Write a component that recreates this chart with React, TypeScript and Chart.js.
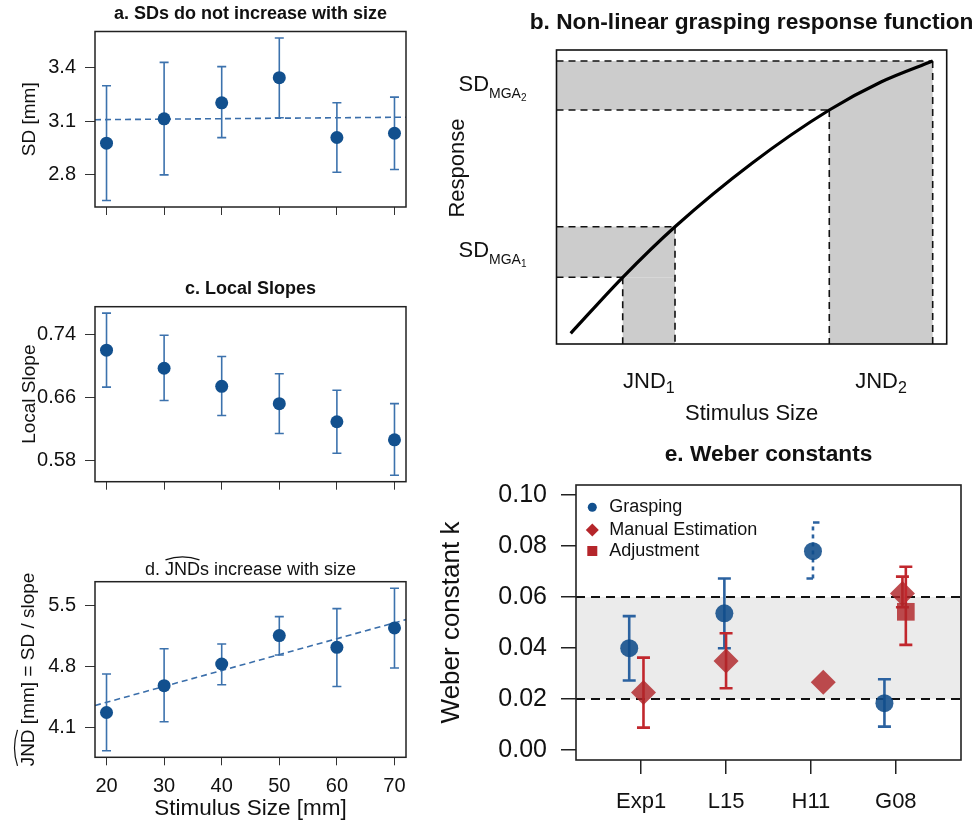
import React, { useEffect, useRef } from 'react';
import { Chart, registerables } from 'chart.js';

Chart.register(...registerables);

const FONT = '"Liberation Sans", Arial, Helvetica, sans-serif';
const INK = '#111111';

// ---------- panels a, c, d : stimulus sizes ----------
const sizes = [20, 30, 40, 50, 60, 70];
const sizeTicks = [20, 30, 40, 50, 60, 70];

const sdMean = [2.976, 3.113, 3.203, 3.344, 3.008, 3.032];
const sdLow = [2.654, 2.798, 3.007, 3.119, 2.813, 2.828];
const sdHigh = [3.299, 3.43, 3.406, 3.567, 3.203, 3.235];
const sdFitX = [18, 72];
const sdFitY = [3.108, 3.122];
const sdTicks = [2.8, 3.1, 3.4];

const slopeMean = [0.72, 0.697, 0.674, 0.652, 0.629, 0.606];
const slopeLow = [0.673, 0.656, 0.637, 0.614, 0.589, 0.561];
const slopeHigh = [0.767, 0.739, 0.712, 0.69, 0.669, 0.652];
const slopeTicks = [0.58, 0.66, 0.74];

const jndMean = [4.268, 4.577, 4.827, 5.154, 5.019, 5.242];
const jndLow = [3.827, 4.161, 4.588, 4.931, 4.568, 4.781];
const jndHigh = [4.711, 5.003, 5.058, 5.373, 5.465, 5.7];
const jndFitX = [18, 72];
const jndFitY = [4.349, 5.338];
const jndTicks = [4.1, 4.8, 5.5];

// ---------- panel b : schematic response function ----------
const curveX = [0.364, 1.697, 3.037, 5.01, 6.991, 8.316, 9.641];
const curveY = [0.364, 2.269, 3.99, 6.15, 7.959, 8.912, 9.626];
const jndStart = [1.697, 6.991];
const jndEnd = [3.037, 9.641];
const sdStart = [2.269, 7.959];
const sdEnd = [3.99, 9.626];

// ---------- panel e : Weber constants ----------
const studies = ['Exp1', 'L15', 'H11', 'G08'];
const studyPos = [1, 2, 3, 4];
const graspX = [0.859, 1.98, 3.024, 3.866];
const graspK = [0.0399, 0.0536, 0.078, 0.0183];
const graspLow = [0.0272, 0.0399, 0.0673, 0.0091];
const graspHigh = [0.0525, 0.0673, 0.0893, 0.0277];
const graspDashed = [false, false, true, false];
const manualX = [1.027, 2.0, 3.145, 4.078];
const manualK = [0.0225, 0.0349, 0.0265, 0.0614];
const manualLow = [0.0087, 0.0242, null, 0.056];
const manualHigh = [0.0362, 0.0458, null, 0.068];
const adjustX = [4.118];
const adjustK = [0.0542];
const adjustLow = [0.0412];
const adjustHigh = [0.0719];
const bandK = [0.02, 0.06];
const weberTicks = [0, 0.02, 0.04, 0.06, 0.08, 0.1];

const BLUE_PT = '#12508e';
const BLUE_BAR = '#3c72ad';
const BLUE_LINE = '#3a6eaa';

const errorBars = {
  id: 'errorBars',
  beforeDatasetDraw(chart: any, args: any) {
    const ds = chart.data.datasets[args.index];
    if (!ds.errLow) return;
    const ctx = chart.ctx;
    const xs = chart.scales.x;
    const ys = chart.scales.y;
    ctx.save();
    ctx.strokeStyle = ds.errColor;
    ctx.lineWidth = ds.errWidth;
    ds.data.forEach((pt: any, i: number) => {
      const lo = ds.errLow[i];
      const hi = ds.errHigh[i];
      if (lo == null || hi == null) return;
      const px = xs.getPixelForValue(pt.x);
      const yl = ys.getPixelForValue(lo);
      const yh = ys.getPixelForValue(hi);
      const dashed = ds.errDashed && ds.errDashed[i];
      const c = ds.capHalf;
      ctx.setLineDash(dashed ? [4, 4] : []);
      ctx.beginPath();
      ctx.moveTo(px, yl);
      ctx.lineTo(px, yh);
      ctx.stroke();
      ctx.setLineDash([]);
      ctx.beginPath();
      if (dashed) {
        ctx.moveTo(px, yh);
        ctx.lineTo(px + c, yh);
        ctx.moveTo(px - c, yl);
        ctx.lineTo(px, yl);
      } else {
        ctx.moveTo(px - c, yh);
        ctx.lineTo(px + c, yh);
        ctx.moveTo(px - c, yl);
        ctx.lineTo(px + c, yl);
      }
      ctx.stroke();
    });
    ctx.restore();
  },
};

function boxPlugin(color: string, width: number) {
  return {
    id: 'box',
    afterDraw(chart: any) {
      const { ctx, chartArea: a } = chart;
      ctx.save();
      ctx.strokeStyle = color;
      ctx.lineWidth = width;
      ctx.strokeRect(a.left, a.top, a.right - a.left, a.bottom - a.top);
      ctx.restore();
    },
  };
}

type Part = { t: string; size: number; dy: number };
function drawParts(ctx: CanvasRenderingContext2D, parts: Part[], x: number, y: number, align: string) {
  const widths = parts.map((p) => {
    ctx.font = `${p.size}px ${FONT}`;
    return ctx.measureText(p.t).width;
  });
  const total = widths.reduce((s, w) => s + w, 0);
  let cx = align === 'left' ? x : align === 'right' ? x - total : x - total / 2;
  ctx.textAlign = 'left';
  ctx.textBaseline = 'alphabetic';
  parts.forEach((p, i) => {
    ctx.font = `${p.size}px ${FONT}`;
    ctx.fillText(p.t, cx, y + p.dy);
    cx += widths[i];
  });
}

function drawHat(ctx: CanvasRenderingContext2D, x0: number, x1: number, y: number, h: number) {
  ctx.beginPath();
  ctx.moveTo(x0, y);
  ctx.quadraticCurveTo((x0 + x1) / 2, y - 2 * h, x1, y);
  ctx.stroke();
}

const baseOpts = {
  responsive: false,
  animation: false as const,
  devicePixelRatio: 1,
  events: [] as any[],
};

function sizePanelConfig(p: {
  mean: number[]; low: number[]; high: number[];
  yMin: number; yMax: number; yTicks: number[]; decimals: number;
  fitX?: number[]; fitY?: number[];
  yTitle?: string; padTop: number; xHeight: number;
  xLabels: boolean; xTitle?: string;
  extra: (chart: any) => void;
}) {
  const datasets: any[] = [
    {
      data: sizes.map((x, i) => ({ x, y: p.mean[i] })),
      pointRadius: 6.5,
      pointStyle: 'circle',
      backgroundColor: BLUE_PT,
      borderWidth: 0,
      errLow: p.low,
      errHigh: p.high,
      errColor: BLUE_BAR,
      errWidth: 1.6,
      capHalf: 4.5,
      order: 1,
    },
  ];
  if (p.fitX && p.fitY) {
    const fy = p.fitY;
    datasets.push({
      data: p.fitX.map((x, i) => ({ x, y: fy[i] })),
      showLine: true,
      pointRadius: 0,
      borderColor: BLUE_LINE,
      borderWidth: 1.6,
      borderDash: [6, 4],
      order: 2,
    });
  }
  return {
    type: 'scatter',
    data: { datasets },
    options: {
      ...baseOpts,
      layout: { autoPadding: false, padding: { left: 0, top: p.padTop, right: 24, bottom: 0 } },
      plugins: { legend: { display: false }, tooltip: { enabled: false } },
      scales: {
        x: {
          type: 'linear',
          min: 18,
          max: 72,
          afterBuildTicks: (s: any) => { s.ticks = sizeTicks.map((v) => ({ value: v })); },
          afterFit: (s: any) => { s.height = p.xHeight; },
          border: { display: false },
          grid: { drawOnChartArea: false, drawTicks: true, tickLength: 8, color: '#333', lineWidth: 1 },
          ticks: {
            autoSkip: false,
            maxRotation: 0,
            padding: 9,
            color: INK,
            font: { family: FONT, size: 20 },
            callback: (v: any) => (p.xLabels ? String(v) : ''),
          },
          title: {
            display: !!p.xTitle,
            text: p.xTitle || '',
            color: INK,
            font: { family: FONT, size: 22.5 },
            padding: { top: 0, bottom: 0 },
          },
        },
        y: {
          type: 'linear',
          min: p.yMin,
          max: p.yMax,
          afterBuildTicks: (s: any) => { s.ticks = p.yTicks.map((v) => ({ value: v })); },
          afterFit: (s: any) => { s.width = 95; },
          border: { display: false },
          grid: { drawOnChartArea: false, drawTicks: true, tickLength: 10, color: '#333', lineWidth: 1 },
          ticks: {
            autoSkip: false,
            padding: 9,
            color: INK,
            font: { family: FONT, size: 20 },
            callback: (v: any) => Number(v).toFixed(p.decimals),
          },
          title: {
            display: !!p.yTitle,
            text: p.yTitle || '',
            color: INK,
            font: { family: FONT, size: 19 },
            padding: { top: 18.6, bottom: 0 },
          },
        },
      },
    },
    plugins: [errorBars, boxPlugin('#222', 1.5), { id: 'extra', afterDraw: p.extra }],
  };
}

function boldTitle(text: string, y: number) {
  return (chart: any) => {
    const { ctx, chartArea: a } = chart;
    ctx.save();
    ctx.fillStyle = INK;
    ctx.font = `bold 18px ${FONT}`;
    ctx.textAlign = 'center';
    ctx.textBaseline = 'middle';
    ctx.fillText(text, (a.left + a.right) / 2, y);
    ctx.restore();
  };
}

function panelDExtra(chart: any) {
  const { ctx, chartArea: a } = chart;
  ctx.save();
  ctx.fillStyle = INK;
  ctx.strokeStyle = INK;
  ctx.lineWidth = 1.2;
  // title with hat over JND
  ctx.font = `18px ${FONT}`;
  const full = 'd. JNDs increase with size';
  const total = ctx.measureText(full).width;
  const start = (a.left + a.right) / 2 - total / 2;
  const pre = ctx.measureText('d. ').width;
  const jw = ctx.measureText('JND').width;
  const base = 65.4;
  ctx.textAlign = 'left';
  ctx.textBaseline = 'alphabetic';
  ctx.fillText(full, start, base);
  drawHat(ctx, start + pre + 0.5, start + pre + jw - 0.5, base - 15.5, 3);
  // rotated y title with hat
  ctx.save();
  ctx.translate(27, (a.top + a.bottom) / 2);
  ctx.rotate(-Math.PI / 2);
  ctx.font = `19px ${FONT}`;
  const yt = 'JND [mm] = SD / slope';
  const tw = ctx.measureText(yt).width;
  const jw2 = ctx.measureText('JND').width;
  ctx.fillText(yt, -tw / 2, 6.8);
  drawHat(ctx, -tw / 2 + 0.5, -tw / 2 + jw2 - 0.5, -9.5, 3);
  ctx.restore();
  ctx.restore();
}

function panelBConfig() {
  const fillsAndDashes = {
    id: 'bdecor',
    beforeDatasetsDraw(chart: any) {
      const { ctx, chartArea: a, scales } = chart;
      const xs = scales.x;
      const ys = scales.y;
      ctx.save();
      ctx.fillStyle = '#cccccc';
      for (let i = 0; i < jndStart.length; i++) {
        const x0 = xs.getPixelForValue(jndStart[i]);
        const x1 = xs.getPixelForValue(jndEnd[i]);
        const y0 = ys.getPixelForValue(sdStart[i]);
        const y1 = ys.getPixelForValue(sdEnd[i]);
        ctx.fillRect(a.left, y1, x1 - a.left, y0 - y1);
        ctx.fillRect(x0, y0, x1 - x0, a.bottom - y0);
      }
      ctx.strokeStyle = '#111';
      ctx.lineWidth = 1.6;
      ctx.setLineDash([7, 5]);
      for (let i = 0; i < jndStart.length; i++) {
        const pairs = [
          [jndStart[i], sdStart[i]],
          [jndEnd[i], sdEnd[i]],
        ];
        pairs.forEach(([xv, yv]) => {
          const px = xs.getPixelForValue(xv);
          const py = ys.getPixelForValue(yv);
          ctx.beginPath();
          ctx.moveTo(a.left, py);
          ctx.lineTo(px, py);
          ctx.moveTo(px, py);
          ctx.lineTo(px, a.bottom);
          ctx.stroke();
        });
      }
      ctx.restore();
    },
    afterDraw(chart: any) {
      const { ctx, chartArea: a, scales } = chart;
      const xs = scales.x;
      const ys = scales.y;
      ctx.save();
      ctx.fillStyle = INK;
      ctx.font = `bold 22.7px ${FONT}`;
      ctx.textAlign = 'center';
      ctx.textBaseline = 'middle';
      ctx.fillText('b. Non-linear grasping response function', (a.left + a.right) / 2, 23);
      for (let i = 0; i < jndStart.length; i++) {
        const yc = (ys.getPixelForValue(sdStart[i]) + ys.getPixelForValue(sdEnd[i])) / 2;
        drawParts(
          ctx,
          [
            { t: 'SD', size: 22, dy: 0 },
            { t: 'MGA', size: 14, dy: 6.5 },
            { t: String(i + 1), size: 10, dy: 10 },
          ],
          a.left - 30,
          yc + 5.5,
          'right'
        );
        const xc = (xs.getPixelForValue(jndStart[i]) + xs.getPixelForValue(jndEnd[i])) / 2;
        drawParts(
          ctx,
          [
            { t: 'JND', size: 22, dy: 0 },
            { t: String(i + 1), size: 16, dy: 5 },
          ],
          xc,
          388,
          'center'
        );
      }
      drawParts(ctx, [{ t: 'Stimulus Size', size: 22, dy: 0 }], (a.left + a.right) / 2, 420, 'center');
      ctx.save();
      ctx.translate(28, 168);
      ctx.rotate(-Math.PI / 2);
      ctx.font = `22px ${FONT}`;
      ctx.textAlign = 'center';
      ctx.textBaseline = 'middle';
      ctx.fillText('Response', 0, 0);
      ctx.restore();
      ctx.strokeStyle = '#111';
      ctx.lineWidth = 1.6;
      ctx.strokeRect(a.left, a.top, a.right - a.left, a.bottom - a.top);
      ctx.restore();
    },
  };
  return {
    type: 'scatter',
    data: {
      datasets: [
        {
          data: curveX.map((x, i) => ({ x, y: curveY[i] })),
          showLine: true,
          cubicInterpolationMode: 'monotone',
          borderColor: '#000',
          borderWidth: 3.2,
          pointRadius: 0,
        },
      ],
    },
    options: {
      ...baseOpts,
      layout: { autoPadding: false, padding: { left: 126.5, top: 50, right: 32.3, bottom: 96 } },
      plugins: { legend: { display: false }, tooltip: { enabled: false } },
      scales: {
        x: { type: 'linear', min: 0, max: 10, display: false },
        y: { type: 'linear', min: 0, max: 10, display: false },
      },
    },
    plugins: [fillsAndDashes],
  };
}

function panelEConfig() {
  const RED_PT = 'rgba(176,36,40,0.82)';
  const RED_BAR = '#c1272d';
  const decor = {
    id: 'edecor',
    beforeDatasetsDraw(chart: any) {
      const { ctx, chartArea: a, scales } = chart;
      const ys = scales.y;
      const y0 = ys.getPixelForValue(bandK[0]);
      const y1 = ys.getPixelForValue(bandK[1]);
      ctx.save();
      ctx.fillStyle = '#ebebeb';
      ctx.fillRect(a.left, y1, a.right - a.left, y0 - y1);
      ctx.strokeStyle = '#111';
      ctx.lineWidth = 2;
      ctx.setLineDash([9, 6]);
      [y0, y1].forEach((y) => {
        ctx.beginPath();
        ctx.moveTo(a.left, y);
        ctx.lineTo(a.right, y);
        ctx.stroke();
      });
      ctx.restore();
    },
    afterDraw(chart: any) {
      const { ctx, chartArea: a } = chart;
      ctx.save();
      ctx.strokeStyle = '#222';
      ctx.lineWidth = 1.6;
      ctx.strokeRect(a.left, a.top, a.right - a.left, a.bottom - a.top);
      ctx.fillStyle = INK;
      ctx.font = `bold 22.7px ${FONT}`;
      ctx.textAlign = 'center';
      ctx.textBaseline = 'middle';
      ctx.fillText('e. Weber constants', (a.left + a.right) / 2, 15);
      // legend
      const lx = a.left + 16.3;
      const tx = a.left + 33.3;
      const rows = [a.top + 22.3, a.top + 45, a.top + 66];
      ctx.fillStyle = BLUE_PT;
      ctx.beginPath();
      ctx.arc(lx, rows[0], 4.5, 0, Math.PI * 2);
      ctx.fill();
      ctx.fillStyle = '#b5262b';
      ctx.beginPath();
      ctx.moveTo(lx - 6.5, rows[1]);
      ctx.lineTo(lx, rows[1] - 6.5);
      ctx.lineTo(lx + 6.5, rows[1]);
      ctx.lineTo(lx, rows[1] + 6.5);
      ctx.closePath();
      ctx.fill();
      ctx.fillRect(lx - 5, rows[2] - 5, 10, 10);
      ctx.fillStyle = INK;
      ctx.font = `18px ${FONT}`;
      ctx.textAlign = 'left';
      ctx.textBaseline = 'middle';
      ctx.fillText('Grasping', tx, rows[0]);
      ctx.fillText('Manual Estimation', tx, rows[1]);
      ctx.fillText('Adjustment', tx, rows[2]);
      ctx.restore();
    },
  };
  return {
    type: 'scatter',
    data: {
      datasets: [
        {
          data: graspX.map((x, i) => ({ x, y: graspK[i] })),
          pointStyle: 'circle',
          pointRadius: 9,
          backgroundColor: 'rgba(16,76,138,0.88)',
          borderWidth: 0,
          errLow: graspLow,
          errHigh: graspHigh,
          errDashed: graspDashed,
          errColor: '#2b62a0',
          errWidth: 2.6,
          capHalf: 6.5,
          order: 3,
        },
        {
          data: manualX.map((x, i) => ({ x, y: manualK[i] })),
          pointStyle: 'rectRot',
          pointRadius: 12.5,
          backgroundColor: RED_PT,
          borderWidth: 0,
          errLow: manualLow,
          errHigh: manualHigh,
          errColor: RED_BAR,
          errWidth: 2.6,
          capHalf: 6.5,
          order: 2,
        },
        {
          data: adjustX.map((x, i) => ({ x, y: adjustK[i] })),
          pointStyle: 'rect',
          pointRadius: 12.5,
          backgroundColor: RED_PT,
          borderWidth: 0,
          errLow: adjustLow,
          errHigh: adjustHigh,
          errColor: RED_BAR,
          errWidth: 2.6,
          capHalf: 6.5,
          order: 1,
        },
      ],
    },
    options: {
      ...baseOpts,
      layout: { autoPadding: false, padding: { left: 0, top: 45, right: 18, bottom: 0 } },
      plugins: { legend: { display: false }, tooltip: { enabled: false } },
      scales: {
        x: {
          type: 'linear',
          min: 0.232,
          max: 4.768,
          afterBuildTicks: (s: any) => { s.ticks = studyPos.map((v) => ({ value: v })); },
          afterFit: (s: any) => { s.height = 62; },
          border: { display: false },
          grid: { drawOnChartArea: false, drawTicks: true, tickLength: 14, color: '#222', lineWidth: 1.5 },
          ticks: {
            autoSkip: false,
            maxRotation: 0,
            padding: 14.5,
            color: INK,
            font: { family: FONT, size: 22 },
            callback: (v: any) => studies[studyPos.indexOf(Number(v))] || '',
          },
        },
        y: {
          type: 'linear',
          min: -0.004,
          max: 0.104,
          afterBuildTicks: (s: any) => { s.ticks = weberTicks.map((v) => ({ value: v })); },
          afterFit: (s: any) => { s.width = 146; },
          border: { display: false },
          grid: { drawOnChartArea: false, drawTicks: true, tickLength: 15, color: '#222', lineWidth: 1.5 },
          ticks: {
            autoSkip: false,
            padding: 14,
            color: INK,
            font: { family: FONT, size: 25 },
            callback: (v: any) => Number(v).toFixed(2),
          },
          title: {
            display: true,
            text: 'Weber constant k',
            color: INK,
            font: { family: FONT, size: 26 },
            padding: { top: 6, bottom: 0 },
          },
        },
      },
    },
    plugins: [errorBars, decor],
  };
}

const panels = [
  { key: 'a', left: 0, top: 0, w: 430, h: 230 },
  { key: 'c', left: 0, top: 240, w: 430, h: 270 },
  { key: 'd', left: 0, top: 510, w: 430, h: 312 },
  { key: 'b', left: 430, top: 0, w: 549, h: 440 },
  { key: 'e', left: 430, top: 440, w: 549, h: 382 },
];

export default function App() {
  const refs = useRef<(HTMLCanvasElement | null)[]>([]);

  useEffect(() => {
    const configs: any[] = [
      sizePanelConfig({
        mean: sdMean, low: sdLow, high: sdHigh,
        yMin: 2.6175, yMax: 3.6035, yTicks: sdTicks, decimals: 1,
        fitX: sdFitX, fitY: sdFitY,
        yTitle: 'SD [mm]', padTop: 31.5, xHeight: 23, xLabels: false,
        extra: boldTitle('a. SDs do not increase with size', 14.5),
      }),
      sizePanelConfig({
        mean: slopeMean, low: slopeLow, high: slopeHigh,
        yMin: 0.5528, yMax: 0.7752, yTicks: slopeTicks, decimals: 2,
        yTitle: 'Local Slope', padTop: 66.7, xHeight: 28.3, xLabels: false,
        extra: boldTitle('c. Local Slopes', 48.7),
      }),
      sizePanelConfig({
        mean: jndMean, low: jndLow, high: jndHigh,
        yMin: 3.752, yMax: 5.775, yTicks: jndTicks, decimals: 1,
        fitX: jndFitX, fitY: jndFitY,
        padTop: 71.7, xHeight: 64.7, xLabels: true, xTitle: 'Stimulus Size [mm]',
        extra: panelDExtra,
      }),
      panelBConfig(),
      panelEConfig(),
    ];
    const charts = configs.map((cfg, i) => new Chart(refs.current[i] as HTMLCanvasElement, cfg));
    return () => charts.forEach((c) => c.destroy());
  }, []);

  return (
    <div style={{ position: 'fixed', left: 0, top: 0, width: 979, height: 822, background: '#ffffff', overflow: 'hidden' }}>
      {panels.map((p, i) => (
        <canvas
          key={p.key}
          ref={(el) => { refs.current[i] = el; }}
          width={p.w}
          height={p.h}
          style={{ position: 'absolute', left: p.left, top: p.top, width: p.w, height: p.h }}
        />
      ))}
    </div>
  );
}
